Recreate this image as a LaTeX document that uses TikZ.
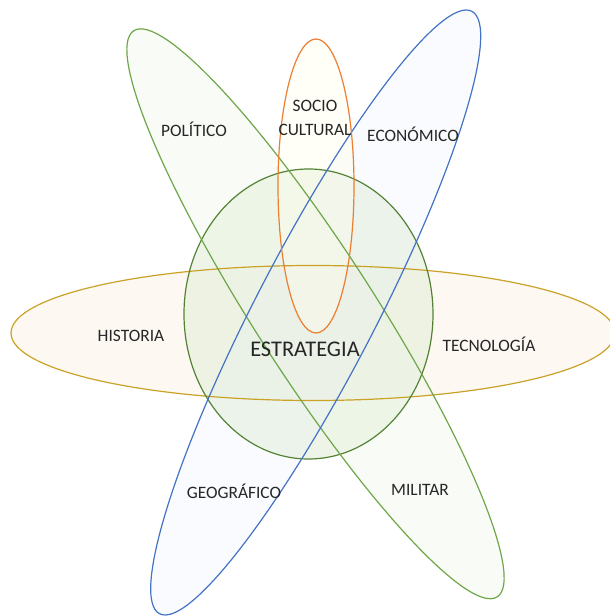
\documentclass[tikz,border=0pt]{standalone}
\usepackage{fontspec}
\setmainfont{Carlito}
\usepackage{xcolor}
\usepackage{tikz}
\usetikzlibrary{positioning}

\definecolor{petal}{HTML}{6FA64A}
\definecolor{ring}{HTML}{548235}
\definecolor{sky}{HTML}{4472C4}
\definecolor{amber}{HTML}{ED7D31}
\definecolor{gold}{HTML}{C9A227}
\definecolor{ringfill}{HTML}{E2EFD9}
\definecolor{petalfill}{HTML}{EEF6E8}
\definecolor{skyfill}{HTML}{E4ECF8}
\definecolor{peach}{HTML}{FDF3EA}

\tikzset{
  lbl/.style={font=\fontsize{8.7}{10}\selectfont, text=black!85, inner sep=1pt},
  orbit/.style={line width=0.6pt},
}

\begin{document}
\begin{tikzpicture}[x=0.5pt, y=0.5pt]
      \useasboundingbox (0,0) rectangle (610,616);

      % fills
      \fill[peach, fill opacity=0.6] (313,283) ellipse [x radius=302, y radius=67.5];
      \fill[ringfill, fill opacity=0.6] (308.5,302) ellipse [x radius=124.5, y radius=145];
      \fill[petalfill, fill opacity=0.4, rotate around={-57.3:(315.5,302.2)}] (315.5,302.2) ellipse [x radius=336.4, y radius=60];
      \fill[skyfill, fill opacity=0.2, rotate around={62.6:(315.7,303.5)}] (315.7,303.5) ellipse [x radius=339.3, y radius=60];
      \fill[yellow!8, fill opacity=0.4] (316,430) ellipse [x radius=38, y radius=147];

      % outlines
      \draw[orbit, gold] (313,283) ellipse [x radius=302, y radius=67.5];
      \draw[orbit, ring] (308.5,302) ellipse [x radius=124.5, y radius=145];
      \draw[orbit, petal, rotate around={-57.3:(315.5,302.2)}] (315.5,302.2) ellipse [x radius=336.4, y radius=60];
      \draw[orbit, sky, rotate around={62.6:(315.7,303.5)}] (315.7,303.5) ellipse [x radius=339.3, y radius=60];
      \draw[orbit, amber] (316,430) ellipse [x radius=38, y radius=147];

      \node[lbl] (pol) at (194,487) {POLÍTICO};
      \node[lbl] (soc) at (315,510) {SOCIO};
      \node[lbl, below=4pt of soc] (cul) {CULTURAL};
      \node[lbl] (eco) at (413,482) {ECONÓMICO};
      \node[lbl] (his) at (131,280) {HISTORIA};
      \node[lbl, font=\fontsize{11.2}{13}\selectfont] (est) at (305,267) {ESTRATEGIA};
      \node[lbl] (tec) at (489,272) {TECNOLOGÍA};
      \node[lbl] (geo) at (234,125) {GEOGRÁFICO};
      \node[lbl] (mil) at (420,126) {MILITAR};
    \end{tikzpicture}
\end{document}
